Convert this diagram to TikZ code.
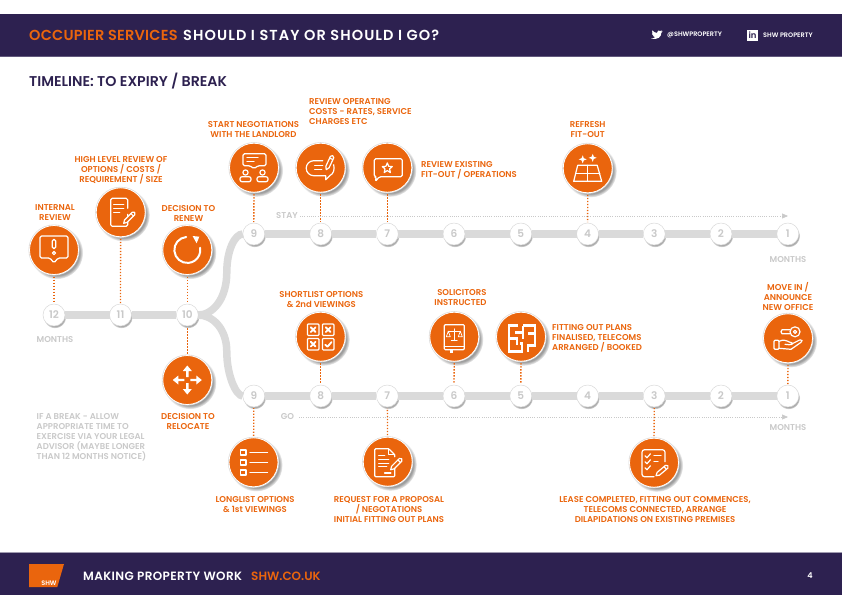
\documentclass[tikz,border=0pt]{standalone}
\usepackage{fontspec}
\setmainfont{Poppins}
\newfontfamily\shwfont{Poppins SemiBold}
\usepackage{xcolor}
\usetikzlibrary{arrows.meta,shadows,fadings}
\definecolor{shworange}{HTML}{EA650D}
\definecolor{shwnavy}{HTML}{2D2150}
\definecolor{shwtrack}{HTML}{DADADA}
\definecolor{shwgrey}{HTML}{C9C9C9}
\tikzset{
	band/.style={fill=shwnavy, draw=none},
	lbl/.style={font=\shwfont\fontsize{8.5}{10}\selectfont, text=shworange, align=center, inner sep=0pt},
	lblleft/.style={lbl, align=left, anchor=west},
	greylbl/.style={font=\shwfont\fontsize{8.5}{10}\selectfont, text=shwgrey, align=left, inner sep=0pt},
	month/.style={circle, fill=white, draw=black!15, line width=0.5pt, minimum size=22pt, inner sep=0pt, outer sep=0pt, text=shwgrey, font=\shwfont\fontsize{10.5}{10.5}\selectfont, circular drop shadow={shadow xshift=0.8pt, shadow yshift=-1.8pt, shadow scale=1.04, opacity=0.6, fill=black!55}},
	iconball/.style={circle, fill=shworange, draw=white, line width=0.8pt, minimum size=49pt, inner sep=0pt, outer sep=0pt, circular drop shadow={shadow xshift=2.5pt, shadow yshift=-2.5pt, shadow scale=1.08, opacity=0.6, fill=black!65}, preaction={draw=black!15, line width=2pt}},
	track/.style={draw=shwtrack, line width=7.5pt},
	linkdot/.style={draw=shworange, line width=1.3pt, dash pattern=on 1.3pt off 1.7pt, shorten <=2pt, shorten >=1pt},
	guide/.style={draw=shwgrey, line width=0.6pt, dash pattern=on 0.6pt off 1.6pt, -{Triangle[length=6pt,width=5pt,fill=shwgrey]}},
	iconline/.style={draw=white, line width=1.2pt, line join=round, line cap=round},
	iconfat/.style={iconline, line width=1.8pt},
	iconfill/.style={fill=white, draw=none},
	pencilicon/.pic={
		\draw[iconline, fill=shworange] (0,0) -- (3,-1.8) -- (14,-1.8) -- (15.5,0) -- (14,1.8) -- (3,1.8) -- cycle;
		\draw[iconline] (12,-1.8) -- (12,1.8);
	},
	sparkle/.pic={
		\fill[white] (0,-4) -- (1.1,-1.1) -- (4,0) -- (1.1,1.1) -- (0,4) -- (-1.1,1.1) -- (-4,0) -- (-1.1,-1.1) -- cycle;
	},
	tickbox/.pic={
		\draw[iconline, rounded corners=1pt] (-5.8,-5.8) rectangle (5.8,5.8);
	},
	crossmark/.pic={
		\draw[iconfat] (-2.4,-2.4) -- (2.4,2.4);
		\draw[iconfat] (-2.4,2.4) -- (2.4,-2.4);
	}
}

\begin{document}
\begin{tikzpicture}[x=1pt, y=-1pt]
	\useasboundingbox (0,0) rectangle (842,595);

	\fill[band] (0,14) rectangle (842,56);
	\fill[band] (0,553) rectangle (842,595);
	\fill[shwnavy!75] (0,56) rectangle (842,56.8);
	\fill[shwnavy!45] (0,552.4) rectangle (842,553);

	\node[anchor=west, inner sep=0pt, font=\shwfont\fontsize{14.5}{14.5}\selectfont\addfontfeature{LetterSpace=1.6}, text=shworange] (occupier) at (29,35.5) {OCCUPIER SERVICES};
	\node[anchor=west, inner sep=0pt, font=\shwfont\fontsize{14.5}{14.5}\selectfont\addfontfeature{LetterSpace=7.5}, text=white] (stayorgo) at (183,35.5) {SHOULD I STAY OR SHOULD I GO?};
	\node[anchor=west, inner sep=0pt, font=\shwfont\fontsize{14.2}{14.2}\selectfont, text=shwnavy] (timeline) at (29,81) {TIMELINE: TO EXPIRY / BREAK};

	\node[anchor=west, inner sep=0pt, font=\shwfont\fontsize{6.5}{6.5}\selectfont, text=white] (twitter) at (667,35.2) {@SHWPROPERTY};
	\node[anchor=west, inner sep=0pt, font=\shwfont\fontsize{6.5}{6.5}\selectfont, text=white] (linkedin) at (763,35.2) {SHW PROPERTY};
	\fill[white] (651,38.2) .. controls (653,38.4) and (654.5,38) .. (655,37.2) .. controls (653.5,37.2) and (653,36.4) .. (652.8,35.8) .. controls (653.2,35.9) and (653.6,35.9) .. (654,35.7) .. controls (652.6,35.4) and (652,34.4) .. (652,33.3) .. controls (652.4,33.6) and (652.8,33.7) .. (653.2,33.7) .. controls (652,32.8) and (651.8,31.5) .. (652.4,30.4) .. controls (653.6,31.9) and (655.2,32.8) .. (657,32.9) .. controls (656.6,30.8) and (659.2,29.4) .. (660.6,31) .. controls (661.2,30.9) and (661.7,30.7) .. (662.2,30.4) .. controls (662,31) and (661.6,31.5) .. (661.1,31.8) .. controls (661.6,31.7) and (662.1,31.6) .. (662.6,31.4) .. controls (662.2,32) and (661.7,32.4) .. (661.3,32.8) .. controls (661.4,36.5) and (658,40.6) .. (651,38.2) -- cycle;
	\fill[white] (747,30) rectangle (758,40.5);
	\node[inner sep=0pt, font=\shwfont\fontsize{8.5}{8.5}\selectfont, text=shwnavy] (linkedinmark) at (752.5,35.6) {in};

	\fill[shworange] (29,564) -- (64,564) -- (57.3,587) -- (29,587) -- cycle;
	\node[inner sep=0pt, font=\shwfont\fontsize{6.5}{6.5}\selectfont, text=white] (logo) at (49,582.8) {SHW};
	\node[anchor=west, inner sep=0pt, font=\shwfont\fontsize{12}{12}\selectfont\addfontfeature{LetterSpace=3.3}, text=white] (making) at (83,576) {MAKING PROPERTY WORK};
	\node[anchor=west, inner sep=0pt, font=\shwfont\fontsize{12}{12}\selectfont, text=shworange] (website) at (251,576) {SHW.CO.UK};
	\node[inner sep=0pt, font=\shwfont\fontsize{8}{8}\selectfont, text=white] (pageno) at (810,576) {4};

	\foreach \n/\x in {12/54,11/120.5,10/187.3} \node[month] (m\n) at (\x,315) {\n};
	\foreach \n/\x in {9/253.8,8/320.7,7/387.3,6/454,5/520.8,4/587.6,3/654.2,2/721,1/787.8} {
		\node[month] (s\n) at (\x,234) {\n};
		\node[month] (g\n) at (\x,396) {\n};
	}
	\draw[track] (m12) -- (m11);
	\draw[track] (m11) -- (m10);
	\foreach \a/\b in {9/8,8/7,7/6,6/5,5/4,4/3,3/2,2/1} {
		\draw[track] (s\a) -- (s\b);
		\draw[track] (g\a) -- (g\b);
	}
	\coordinate (bendup) at (226.8,272);
	\coordinate (benddown) at (226.8,352);
	\draw[track] (m10) .. controls (212,315) and (226.8,300) .. (bendup) .. controls (226.8,250) and (235,234) .. (s9);
	\draw[track] (m10) .. controls (212,315) and (226.8,328) .. (benddown) .. controls (226.8,375) and (236,396) .. (g9);

	\node[iconball] (ireview) at (54,250) {};
	\node[iconball] (highlevel) at (120.7,212.3) {};
	\node[iconball] (renew) at (187.3,250) {};
	\node[iconball] (startneg) at (254,167.7) {};
	\node[iconball] (revcosts) at (320.7,167.7) {};
	\node[iconball] (revfitout) at (387.3,167.7) {};
	\node[iconball] (refresh) at (587.7,168.3) {};
	\node[iconball] (relocate) at (187.3,380) {};
	\node[iconball] (longlist) at (253.5,462.3) {};
	\node[iconball] (shortlist) at (320.7,336.7) {};
	\node[iconball] (request) at (387.7,461.7) {};
	\node[iconball] (solicitors) at (454.3,336.7) {};
	\node[iconball] (fitplans) at (521,336.7) {};
	\node[iconball] (lease) at (654,462.7) {};
	\node[iconball] (movein) at (788,338.3) {};

	\draw[linkdot] (ireview) -- (m12);
	\draw[linkdot] (highlevel) -- (m11);
	\draw[linkdot] (renew) -- (m10);
	\draw[linkdot] (relocate) -- (m10);
	\draw[linkdot] (startneg) -- (s9);
	\draw[linkdot] (revcosts) -- (s8);
	\draw[linkdot] (revfitout) -- (s7);
	\draw[linkdot] (refresh) -- (s4);
	\draw[linkdot] (longlist) -- (g9);
	\draw[linkdot] (shortlist) -- (g8);
	\draw[linkdot] (request) -- (g7);
	\draw[linkdot] (solicitors) -- (g6);
	\draw[linkdot] (fitplans) -- (g5);
	\draw[linkdot] (lease) -- (g3);
	\draw[linkdot] (movein) -- (g1);

	\node[greylbl] (staylbl) at (287,216) {STAY};
	\node[greylbl] (golbl) at (287.5,417) {GO};
	\coordinate (stayend) at (788,216);
	\coordinate (goend) at (788,417);
	\coordinate (staystart) at (300,216);
	\coordinate (gostart) at (299,417);
	\draw[guide] (staystart) -- (stayend);
	\draw[guide] (gostart) -- (goend);
	\node[greylbl] (monthsa) at (55,340) {MONTHS};
	\node[greylbl] (monthsb) at (788,260) {MONTHS};
	\node[greylbl] (monthsc) at (788,428) {MONTHS};
	\node[greylbl, anchor=west] (breaknote) at (36.5,437) {IF A BREAK - ALLOW\\APPROPRIATE TIME TO\\EXERCISE VIA YOUR LEGAL\\ADVISOR (MAYBE LONGER\\THAN 12 MONTHS NOTICE)};

	\node[lbl] (t1) at (55,213) {INTERNAL\\REVIEW};
	\node[lbl] (t2) at (121,170) {HIGH LEVEL REVIEW OF\\OPTIONS / COSTS /\\REQUIREMENT / SIZE};
	\node[lbl] (t3) at (188.5,213) {DECISION TO\\RENEW};
	\node[lbl] (t4) at (253.5,130) {START NEGOTIATIONS\\WITH THE LANDLORD};
	\node[lblleft] (t5) at (309,112) {REVIEW OPERATING\\COSTS - RATES, SERVICE\\CHARGES ETC};
	\node[lblleft] (t6) at (421,170) {REVIEW EXISTING\\FIT-OUT / OPERATIONS};
	\node[lbl] (t7) at (587.7,130) {REFRESH\\FIT-OUT};
	\node[lbl] (t8) at (321.3,300) {SHORTLIST OPTIONS\\\& 2nd VIEWINGS};
	\node[lbl, align=right, anchor=east] (t9) at (486.7,298) {SOLICITORS\\INSTRUCTED};
	\node[lblleft] (t10) at (552,338) {FITTING OUT PLANS\\FINALISED, TELECOMS\\ARRANGED / BOOKED};
	\node[lbl] (t11) at (788,296) {MOVE IN /\\ANNOUNCE\\NEW OFFICE};
	\node[lbl] (t12) at (188,422) {DECISION TO\\RELOCATE};
	\node[lbl] (t13) at (255,505) {LONGLIST OPTIONS\\\& 1st VIEWINGS};
	\node[lbl] (t14) at (389,510) {REQUEST FOR A PROPOSAL\\/ NEGOTATIONS\\INITIAL FITTING OUT PLANS};
	\node[lbl] (t15) at (655,510) {LEASE COMPLETED, FITTING OUT COMMENCES,\\TELECOMS CONNECTED, ARRANGE\\DILAPIDATIONS ON EXISTING PREMISES};

	\begin{scope}[shift={(ireview.center)}]
		\draw[iconline, rounded corners=1.5pt] (-14,-14) -- (14,-14) -- (14,8) -- (4,8) -- (0,13) -- (-4,8) -- (-14,8) -- cycle;
		\draw[iconline] (-1.8,-9) -- (-1.8,-3) arc[start angle=180,end angle=360,radius=1.8pt] -- (1.8,-9) arc[start angle=0,end angle=180,radius=1.8pt];
		\draw[iconline] (0,3) circle[radius=1.6pt];
	\end{scope}

	\begin{scope}[shift={(highlevel.center)}]
		\draw[iconline, rounded corners=1.5pt] (7,2) -- (7,14) -- (-10,14) -- (-10,-14) -- (7,-14) -- (7,-4);
		\draw[iconline] (-7,-8) -- (3,-8);
		\draw[iconline] (-7,-4) -- (3,-4);
		\draw[iconline] (-7,0) -- (-1,0);
		\pic[rotate=45] at (3,11) {pencilicon};
	\end{scope}

	\begin{scope}[shift={(renew.center)}]
		\draw[iconline, line width=2pt] (-1.1,-13) arc[start angle=95,end angle=370,radius=13pt];
		\fill[iconfill] (5.3,-14) -- (12,-13.3) -- (9.3,-6.7) -- cycle;
	\end{scope}

	\begin{scope}[shift={(startneg.center)}]
		\draw[iconline, rounded corners=1.5pt] (-11,-14) -- (12,-14) -- (12,-2) -- (4,-2) -- (0,1) -- (-4,-2) -- (-11,-2) -- cycle;
		\draw[iconline] (-7,-10) -- (4,-10);
		\draw[iconline] (-7,-6.5) -- (0,-6.5);
		\draw[iconline] (-8.5,4.8) circle[radius=2.6pt];
		\draw[iconline] (8.5,4.8) circle[radius=2.6pt];
		\draw[iconline, rounded corners=2pt] (-14,14) -- (-14,9) -- (-3,9) -- (-3,14) -- cycle;
		\draw[iconline, rounded corners=2pt] (3,14) -- (3,9) -- (14,9) -- (14,14) -- cycle;
	\end{scope}

	\begin{scope}[shift={(revcosts.center)}]
		\draw[iconline] (2,-7) -- (-7,-7) arc[start angle=90,end angle=270,radius=7.5pt] -- (5,8) -- (5,12) -- (9,8) .. controls (13,6) and (14,2) .. (13,-3);
		\draw[iconline] (-6,-2.5) -- (2,-2.5);
		\draw[iconline] (-6,2) -- (1,2);
		\pic[rotate=65] at (5.5,2) {pencilicon};
	\end{scope}

	\begin{scope}[shift={(revfitout.center)}]
		\draw[iconline, rounded corners=1.5pt] (-13,-9) -- (15,-9) -- (15,9) -- (-8,9) -- (-12,14) -- (-11,9) -- (-13,9) -- cycle;
		\draw[iconline] (0,-4.8) -- (1.4,-1.4) -- (5,-1.1) -- (2.3,1.2) -- (3.1,4.8) -- (0,2.9) -- (-3.1,4.8) -- (-2.3,1.2) -- (-5,-1.1) -- (-1.4,-1.4) -- cycle;
	\end{scope}

	\begin{scope}[shift={(refresh.center)}]
		\draw[iconline] (-10,-3) -- (9.5,-3) -- (14,13) -- (-14,13) -- cycle;
		\draw[iconline] (-12,5) -- (12,5);
		\draw[iconline] (0,-3) -- (0,13);
		\pic at (-5,-9) {sparkle};
		\pic at (5,-10.5) {sparkle};
	\end{scope}

	\begin{scope}[shift={(relocate.center)}]
		\foreach \ang in {0,90,180,270} {
			\fill[white, rotate=\ang] (3,-1.2) -- (9,-1.2) -- (9,-4.5) -- (14.5,0) -- (9,4.5) -- (9,1.2) -- (3,1.2) -- cycle;
		}
	\end{scope}

	\begin{scope}[shift={(longlist.center)}]
		\foreach \row in {-10,0,10} {
			\draw[iconfat] (-13,\row-2.6) rectangle (-7.4,\row+2.6);
			\draw[iconline] (-3.5,\row) -- (14,\row);
		}
	\end{scope}

	\begin{scope}[shift={(shortlist.center)}]
		\pic at (-7.5,-7) {tickbox};
		\pic at (7.5,-7) {tickbox};
		\pic at (-7.5,7.5) {tickbox};
		\pic at (7.5,7.5) {tickbox};
		\pic at (-7.5,-7) {crossmark};
		\pic at (7.5,-7) {crossmark};
		\pic at (-7.5,7.5) {crossmark};
		\draw[iconfat] (4.5,8) -- (6.8,10) -- (10.8,5.4);
	\end{scope}

	\begin{scope}[shift={(request.center)}]
		\draw[iconline, rounded corners=1pt] (7,3) -- (7,15) -- (-13,15) -- (-13,-13) -- (1,-13) -- (7,-7) -- (7,-5);
		\draw[iconline] (1,-13) -- (1,-7) -- (7,-7);
		\draw[iconline] (-9,-6) -- (-3,-6);
		\draw[iconline] (-9,-2) -- (1,-2);
		\draw[iconline] (-9,1.5) -- (1,1.5);
		\draw[iconline] (-9,5) -- (-1,5);
		\draw[iconfat] (-3,11) -- (3,11);
		\pic[rotate=45] at (3,8) {pencilicon};
	\end{scope}

	\begin{scope}[shift={(solicitors.center)}]
		\draw[iconline, rounded corners=1pt] (-10,10) -- (-10,-12) -- (10,-12) -- (10,13) -- (-10,13) -- cycle;
		\draw[iconline] (-10,10) -- (10,10);
		\draw[iconfill] (-4,13) rectangle (-1,16);
		\draw[iconline, line width=0.7pt] (0,-8) -- (0,4);
		\draw[iconline, line width=0.7pt] (-3,4) -- (3,4);
		\draw[iconline, line width=0.7pt] (-6,-5.5) -- (6,-5.5);
		\draw[iconline, line width=0.7pt] (-8,0) -- (-6,-5.5) -- (-4,0) -- cycle;
		\draw[iconline, line width=0.7pt] (8,0) -- (6,-5.5) -- (4,0) -- cycle;
	\end{scope}

	\begin{scope}[shift={(fitplans.center)}]
		\draw[iconline, line width=2.6pt, line cap=butt, line join=miter] (-3,-11) -- (-12,-11) -- (-12,15) -- (1,15) -- (1,7) -- (-1,7);
		\draw[iconline, line width=2.6pt, line cap=butt, line join=miter] (-12,2) -- (-4,2) -- (-4,8);
		\draw[iconline, line width=2.6pt, line cap=butt, line join=miter] (2,-11) -- (14,-11) -- (14,9) -- (7,9) -- (7,15);
		\draw[iconline, line width=2.6pt, line cap=butt, line join=miter] (2,-11) -- (2,2);
		\draw[iconline, line width=2.6pt, line cap=butt, line join=miter] (-6,-4) -- (2,-4);
		\draw[iconline, line width=2.6pt, line cap=butt, line join=miter] (7,-3) -- (14,-3);
	\end{scope}

	\begin{scope}[shift={(lease.center)}]
		\draw[iconline, rounded corners=2.5pt] (0,14) -- (-12,14) -- (-12,-13) -- (11,-13) -- (11,-1);
		\draw[iconline] (-9,-7) -- (-7,-5) -- (-3.5,-9);
		\draw[iconline] (-9,-1) -- (-7,1) -- (-3.5,-3);
		\draw[iconline] (-9,5) -- (-7,7) -- (-3.5,3);
		\draw[iconline] (0,-7) -- (7,-7);
		\draw[iconline] (0,-1) -- (4,-1);
		\pic[rotate=40] at (2,13) {pencilicon};
	\end{scope}

	\begin{scope}[shift={(movein.center)}]
		\draw[iconline] (7,-6.5) circle[radius=5pt];
		\draw[iconline] (7,-6.5) circle[radius=1.6pt];
		\draw[iconline] (2,-8.5) -- (-6,-8.5) -- (-7,-6.5) -- (-6,-4.5) -- (2,-4.5);
		\draw[iconline, rounded corners=1pt] (-14,2) rectangle (-9,11);
		\draw[iconline] (-9,3) .. controls (-5,1) and (-2,2) .. (2,4) -- (4,4.5) .. controls (5.5,6) and (3,7) .. (-3,6);
		\draw[iconline] (3,6) -- (12,1.5) .. controls (14,1) and (15,3) .. (13,4) -- (3,11) -- (-9,10);
	\end{scope}
\end{tikzpicture}
\end{document}
